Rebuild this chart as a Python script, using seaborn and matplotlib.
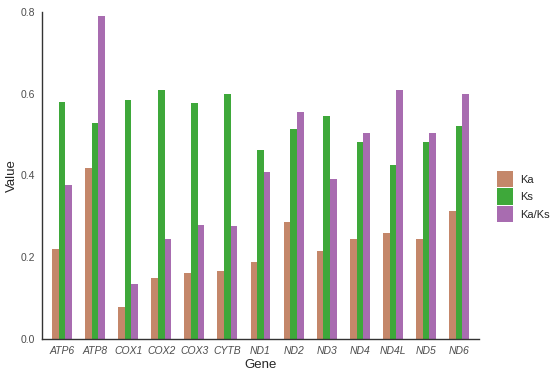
import pandas as pd
import matplotlib
matplotlib.use('Agg')
import matplotlib.pyplot as plt
import seaborn as sns

genes = ['ATP6', 'ATP8', 'COX1', 'COX2', 'COX3', 'CYTB', 'ND1',
         'ND2', 'ND3', 'ND4', 'ND4L', 'ND5', 'ND6']
ka = [0.219, 0.418, 0.079, 0.150, 0.162, 0.166, 0.188,
      0.285, 0.215, 0.244, 0.259, 0.244, 0.314]
ks = [0.580, 0.528, 0.585, 0.608, 0.578, 0.598, 0.462,
      0.513, 0.545, 0.483, 0.426, 0.483, 0.521]
ka_ks = [0.376, 0.789, 0.135, 0.245, 0.280, 0.276, 0.409,
         0.554, 0.392, 0.505, 0.609, 0.504, 0.600]
series = ['Ka', 'Ks', 'Ka/Ks']
colors = ['#c4876a', '#3ea83a', '#a86cb0']
y_ticks = [0.0, 0.2, 0.4, 0.6, 0.8]

# long format for seaborn
df = pd.DataFrame({'Gene': genes, 'Ka': ka, 'Ks': ks, 'Ka/Ks': ka_ks})
df = df.melt(id_vars='Gene', var_name='Type', value_name='Value')

sns.set_style('white')
plt.rcParams['font.family'] = ['Liberation Sans', 'DejaVu Sans']

fig = plt.figure(figsize=(5.5, 3.72), dpi=100)
ax = fig.add_axes([0.0764, 0.0887, 0.7946, 0.8793])

sns.barplot(data=df, x='Gene', y='Value', hue='Type', hue_order=series,
            order=genes, palette=dict(zip(series, colors)), width=0.6,
            saturation=1, errorbar=None, linewidth=0, ax=ax)

ax.set_xlim(-0.6, len(genes) - 0.4)
ax.set_ylim(0, 0.8)
ax.set_yticks(y_ticks)
ax.set_yticklabels([f'{t:.1f}' for t in y_ticks])
sns.despine(ax=ax)
for s in ['left', 'bottom']:
    ax.spines[s].set_color('#333333')
    ax.spines[s].set_linewidth(1.0)
ax.tick_params(axis='both', length=3, width=0.8, color='#333333',
               labelsize=7.5, labelcolor='#4d4d4d', pad=2)
for lbl in ax.get_xticklabels():
    lbl.set_fontstyle('italic')
ax.set_xlabel('Gene', fontsize=9.5, labelpad=2)
ax.set_ylabel('Value', fontsize=9.5, labelpad=2)

handles, labels = ax.get_legend_handles_labels()
ax.legend(handles, labels, loc='center left', bbox_to_anchor=(1.03, 0.435),
          frameon=False, fontsize=8, handlelength=1.5, handleheight=1.9,
          handletextpad=0.6, labelspacing=0.1, borderaxespad=0)

fig.savefig('out.png', dpi=100)
